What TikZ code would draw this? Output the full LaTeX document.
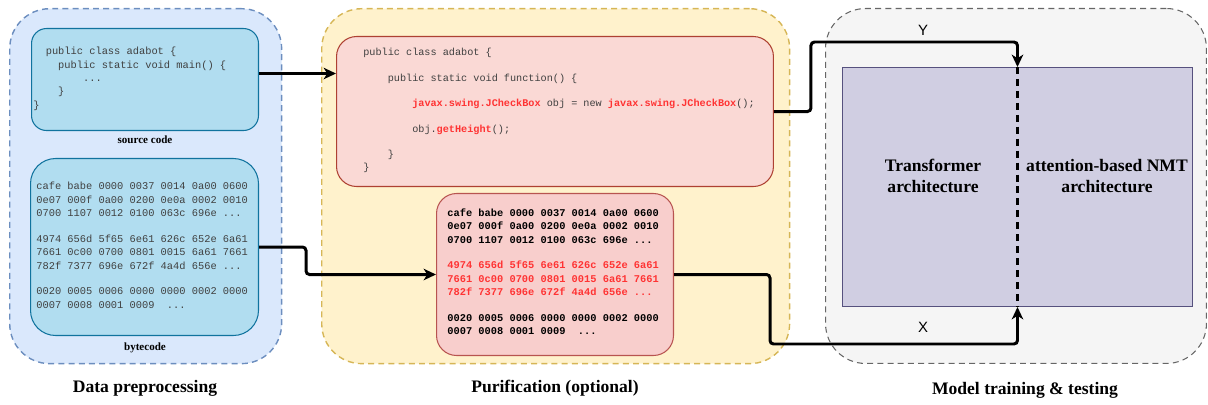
\documentclass[tikz,border=0pt]{standalone}
\usepackage{fontspec}
\setmainfont{Liberation Serif}
\setsansfont{Liberation Sans}
\setmonofont{Liberation Mono}
\usepackage{tikz}
\usetikzlibrary{positioning}
\usetikzlibrary{calc}
\usetikzlibrary{arrows.meta}
\definecolor{prepfill}{HTML}{DAE8FC}
\definecolor{prepline}{HTML}{6C8EBF}
\definecolor{codefill}{HTML}{B1DDF0}
\definecolor{codeline}{HTML}{10739E}
\definecolor{purefill}{HTML}{FFF2CC}
\definecolor{pureline}{HTML}{D6B656}
\definecolor{srcfill}{HTML}{FAD9D5}
\definecolor{srcline}{HTML}{AE4132}
\definecolor{bytefill}{HTML}{F8CECC}
\definecolor{byteline}{HTML}{B85450}
\definecolor{trainfill}{HTML}{F5F5F5}
\definecolor{trainline}{HTML}{666666}
\definecolor{modelfill}{HTML}{D0CEE2}
\definecolor{modelline}{HTML}{56517E}
\definecolor{codegray}{HTML}{404040}
\definecolor{hl}{HTML}{FF3333}
\tikzset{>=Stealth}
\tikzset{
  stage/.style={rounded corners=0.8cm, line width=0.8pt, dash pattern=on 3.4pt off 2.4pt,
    anchor=north west, minimum height=7.1cm, inner sep=0pt},
  box/.style={rounded corners=0.4cm, line width=0.6pt, anchor=north west, inner sep=0pt},
  code/.style={anchor=north west, inner sep=0pt, align=left, text=codegray,
    font=\ttfamily\fontsize{5.9}{7.7}\selectfont},
  caption/.style={font=\bfseries\fontsize{6.3}{7}\selectfont},
  title/.style={font=\bfseries\fontsize{10}{12}\selectfont, align=center},
  axis/.style={font=\sffamily\fontsize{8.5}{10}\selectfont},
  flow/.style={->, line width=1.7pt, rounded corners=2pt,
    >={Stealth[length=7pt,width=6.5pt,inset=2pt]}},
}
\newcommand{\pad}[1]{\hspace*{#1\fontdimen2\font}}
\newcommand{\redtt}[1]{\textcolor{hl}{\bfseries #1}}

\begin{document}
\begin{tikzpicture}[x=0.02cm, y=-0.02cm]
  \useasboundingbox (0,0) rectangle (1208,405);

  % Stages
  \node[stage, draw=prepline, fill=prepfill, minimum width=5.44cm] (prep) at (9,8) {};
  \node[stage, draw=pureline, fill=purefill, minimum width=9.36cm] (pure) at (321,8) {};
  \node[stage, draw=trainline, fill=trainfill, line width=0.6pt,
    minimum width=7.62cm] (train) at (825,8) {};

  % Data preprocessing
  \node[box, draw=codeline, fill=codefill, rounded corners=0.3cm,
    minimum width=4.54cm, minimum height=2.04cm] (src) at (31,28) {};
  \node[code, font=\ttfamily\fontsize{5.9}{7.6}\selectfont] (srctext) at (33,47) {%
    \pad{2}public class adabot \{\\
    \pad{4}public static void main() \{\\
    \pad{8}...\\
    \pad{4}\}\\
    \}};
  \node[caption] (srclbl) at (145,140) {source code};

  \node[box, draw=codeline, fill=codefill, rounded corners=0.5cm,
    minimum width=4.56cm, minimum height=3.54cm] (byte) at (30,158) {};
  \node[code] (bytetext) at (36,182) {%
    cafe babe 0000 0037 0014 0a00 0600\\
    0e07 000f 0a00 0200 0e0a 0002 0010\\
    0700 1107 0012 0100 063c 696e ...\\[6.8pt]
    4974 656d 5f65 6e61 626c 652e 6a61\\
    7661 0c00 0700 0801 0015 6a61 7661\\
    782f 7377 696e 672f 4a4d 656e ...\\[6.8pt]
    0020 0005 0006 0000 0000 0002 0000\\
    0007 0008 0001 0009 \pad{1}...};
  \node[caption] (bytelbl) at (145,348) {bytecode};

  % Purification
  \node[box, draw=srcline, fill=srcfill, minimum width=8.74cm, minimum height=3cm]
    (puresrc) at (336,36) {};
  \node[code, font=\ttfamily\fontsize{5.8}{7.3}\selectfont] (puresrctext) at (363,48) {%
    public class adabot \{\\[7.2pt]
    \pad{4}public static void function() \{\\[7.2pt]
    \pad{8}\redtt{javax.swing.JCheckBox} obj = new \redtt{javax.swing.JCheckBox}();\\[7.2pt]
    \pad{8}obj.\redtt{getHeight}();\\[7.2pt]
    \pad{4}\}\\
    \}};

  \node[box, draw=byteline, fill=bytefill, minimum width=4.74cm, minimum height=3.24cm]
    (purebyte) at (436,193) {};
  \node[code, text=black, font=\ttfamily\bfseries\fontsize{5.9}{7.7}\selectfont]
    (purebytetext) at (447,208) {%
    cafe babe 0000 0037 0014 0a00 0600\\
    0e07 000f 0a00 0200 0e0a 0002 0010\\
    0700 1107 0012 0100 063c 696e ...\\[6.8pt]
    \textcolor{hl}{4974 656d 5f65 6e61 626c 652e 6a61}\\
    \textcolor{hl}{7661 0c00 0700 0801 0015 6a61 7661}\\
    \textcolor{hl}{782f 7377 696e 672f 4a4d 656e ...}\\[6.8pt]
    0020 0005 0006 0000 0000 0002 0000\\
    0007 0008 0001 0009 \pad{1}...};

  % Model training
  \node[draw=modelline, fill=modelfill, line width=0.6pt, anchor=north west, inner sep=0pt,
    minimum width=7cm, minimum height=4.78cm] (model) at (842,67) {};
  \node[title] (tf) at (933,176) {Transformer\\architecture};
  \node[title] (nmt) at (1107,176) {attention-based NMT\\architecture};
  \draw[line width=1.5pt, dash pattern=on 4pt off 2.8pt] (model.north) -- (model.south);

  % Titles
  \node[title] (preplbl) at (145,388) {Data preprocessing};
  \node[title] (purelbl) at (555,388) {Purification (optional)};
  \node[title] (trainlbl) at (1025,390) {Model training \& testing};

  % Flows
  \coordinate (srcout) at ($(src.east)+(0,-6)$);
  \draw[flow] (srcout) -- (srcout -| puresrc.west);
  \draw[flow] (byte.east) -- ++(47,0) |- (purebyte.west);
  \draw[flow] (puresrc.east) -- ++(37,0) |- ($(model.north)+(0,-25)$) -- (model.north);
  \draw[flow] (purebyte.east) -- ++(96,0) |- ($(model.south)+(0,37)$) -- (model.south);
  \node[axis] (ylab) at (923,30) {Y};
  \node[axis] (xlab) at (923,327) {X};
\end{tikzpicture}
\end{document}
